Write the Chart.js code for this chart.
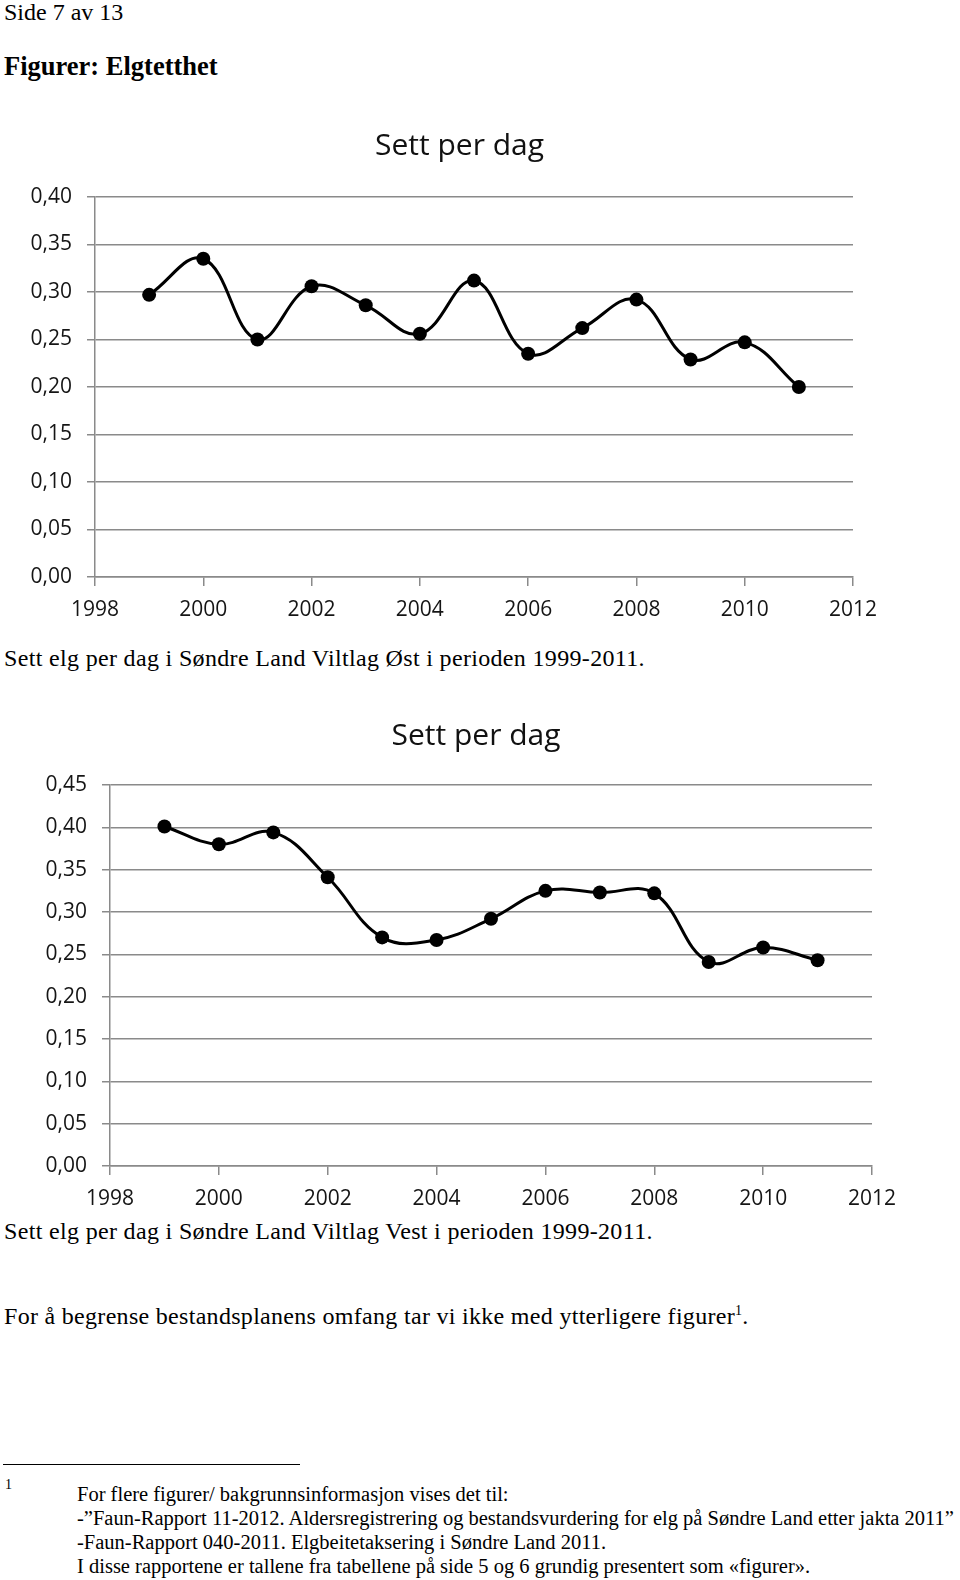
<!DOCTYPE html>
<html>
<head>
<meta charset="utf-8">
<script src="https://cdn.jsdelivr.net/npm/chart.js@4/dist/chart.umd.min.js"></script>
<style>
  html, body { margin: 0; padding: 0; background: #fff; }
  body { position: relative; width: 960px; height: 1580px; overflow: hidden;
         font-family: "Liberation Serif", "Times New Roman", serif; color: #000; }
  .t { position: absolute; white-space: nowrap; line-height: 1; }
  .wrap { position: absolute; left: 0; width: 960px; }
  canvas { display: block; }
</style>
</head>
<body>
<div class="t" style="left:4px; top:0px; font-size:24px;">Side 7 av 13</div>
<div class="t" style="left:4px; top:53px; font-size:26.5px; font-weight:bold;">Figurer: Elgtetthet</div>

<div class="wrap" style="top:110px; height:512px;"><canvas id="eastChart" width="960" height="512"></canvas></div>
<div class="t" style="left:4px; top:646px; font-size:24px; letter-spacing:0.33px;">Sett elg per dag i Søndre Land Viltlag Øst i perioden 1999-2011.</div>

<div class="wrap" style="top:690px; height:521px;"><canvas id="westChart" width="960" height="521"></canvas></div>
<div class="t" style="left:4px; top:1219px; font-size:24px; letter-spacing:0.33px;">Sett elg per dag i Søndre Land Viltlag Vest i perioden 1999-2011.</div>

<div class="t" style="left:4px; top:1304px; font-size:24px; letter-spacing:0.3px;">For å begrense bestandsplanens omfang tar vi ikke med ytterligere figurer<sup style="font-size:14px;">1</sup>.</div>

<div style="position:absolute; left:3px; top:1464px; width:297px; height:0; border-top:1.5px solid #000;"></div>
<div class="t" style="left:5px; top:1478px; font-size:14px;">1</div>
<div class="t" style="left:77px; top:1484px; font-size:20.5px;">For flere figurer/ bakgrunnsinformasjon vises det til:</div>
<div class="t" style="left:77px; top:1508px; font-size:20.5px;">-”Faun-Rapport 11-2012. Aldersregistrering og bestandsvurdering for elg på Søndre Land etter jakta 2011”</div>
<div class="t" style="left:77px; top:1532px; font-size:20.5px;">-Faun-Rapport 040-2011. Elgbeitetaksering i Søndre Land 2011.</div>
<div class="t" style="left:77px; top:1556px; font-size:20.5px;">I disse rapportene er tallene fra tabellene på side 5 og 6 grundig presentert som «figurer».</div>

<script>
// år med observasjoner
const years = [1999, 2000, 2001, 2002, 2003, 2004, 2005, 2006, 2007, 2008, 2009, 2010, 2011];
// sett elg per dag, Viltlag Øst
const eastSeen = [0.297, 0.335, 0.250, 0.306, 0.286, 0.256, 0.312, 0.235, 0.262, 0.292, 0.229, 0.247, 0.200];
// sett elg per dag, Viltlag Vest
const westSeen = [0.401, 0.380, 0.394, 0.341, 0.270, 0.267, 0.292, 0.325, 0.323, 0.322, 0.241, 0.258, 0.243];

const xTickYears = [1998, 2000, 2002, 2004, 2006, 2008, 2010, 2012];
const eastYTicks = [0, 0.05, 0.10, 0.15, 0.20, 0.25, 0.30, 0.35, 0.40];
const westYTicks = [0, 0.05, 0.10, 0.15, 0.20, 0.25, 0.30, 0.35, 0.40, 0.45];

const titleText = 'Sett per dag';
const gridColor = '#8a8a8a';
const tickFont = { family: '"Open Sans", sans-serif', size: 21 };

// flytt tittelen sidelengs (tittelen står ikke midt over plottet)
const titleShift = {
  id: 'titleShift',
  afterLayout(chart, args, opts) {
    const tb = chart.titleBlock;
    if (!tb) return;
    tb.left += opts.dx;
    tb.right += opts.dx;
  }
};

// lag ett linjediagram
function makeChart(canvasId, values, yTicks, layout) {
  const ctx = document.getElementById(canvasId);
  return new Chart(ctx, {
    type: 'line',
    data: {
      datasets: [{
        data: years.map((y, i) => ({ x: y, y: values[i] })),
        borderColor: '#000',
        backgroundColor: '#000',
        borderWidth: 3,
        tension: 0.4,
        pointRadius: 7,
        pointBorderWidth: 0,
        pointBackgroundColor: '#000',
        fill: false
      }]
    },
    plugins: [titleShift],
    options: {
      responsive: false,
      animation: false,
      devicePixelRatio: 1,
      layout: { padding: { left: 0, right: layout.padRight, top: 0, bottom: 0 } },
      plugins: {
        legend: { display: false },
        tooltip: { enabled: false },
        titleShift: { dx: layout.titleDx },
        title: {
          display: true,
          text: titleText,
          color: '#111',
          font: { family: '"Open Sans", sans-serif', size: 30, weight: 'normal', lineHeight: 1.2 },
          padding: { top: layout.titleTop, bottom: layout.titleBottom }
        }
      },
      scales: {
        x: {
          type: 'linear',
          min: xTickYears[0],
          max: xTickYears[xTickYears.length - 1],
          afterBuildTicks: s => { s.ticks = xTickYears.map(v => ({ value: v })); },
          afterFit: s => { s.height = 45; },
          grid: { drawOnChartArea: false, drawTicks: true, tickLength: 9, color: gridColor, lineWidth: 1.5 },
          border: { display: true, color: gridColor, width: 1.5 },
          ticks: { font: tickFont, color: '#151515', padding: 11, maxRotation: 0,
                   callback: v => String(v) }
        },
        y: {
          min: 0,
          max: yTicks[yTicks.length - 1],
          afterBuildTicks: s => { s.ticks = yTicks.map(v => ({ value: v })); },
          afterFit: s => { s.width = layout.yWidth; },
          grid: { drawTicks: true, tickLength: 8, color: gridColor, lineWidth: 1.5 },
          border: { display: true, color: gridColor, width: 1.5 },
          ticks: { font: tickFont, color: '#151515', padding: 15,
                   callback: v => v.toFixed(2).replace('.', ',') }
        }
      }
    }
  });
}

makeChart('eastChart', eastSeen, eastYTicks,
  { padRight: 107, yWidth: 95, titleDx: 33, titleTop: 18, titleBottom: 33 });
makeChart('westChart', westSeen, westYTicks,
  { padRight: 88, yWidth: 110, titleDx: 40, titleTop: 28, titleBottom: 31 });
</script>
</body>
</html>
